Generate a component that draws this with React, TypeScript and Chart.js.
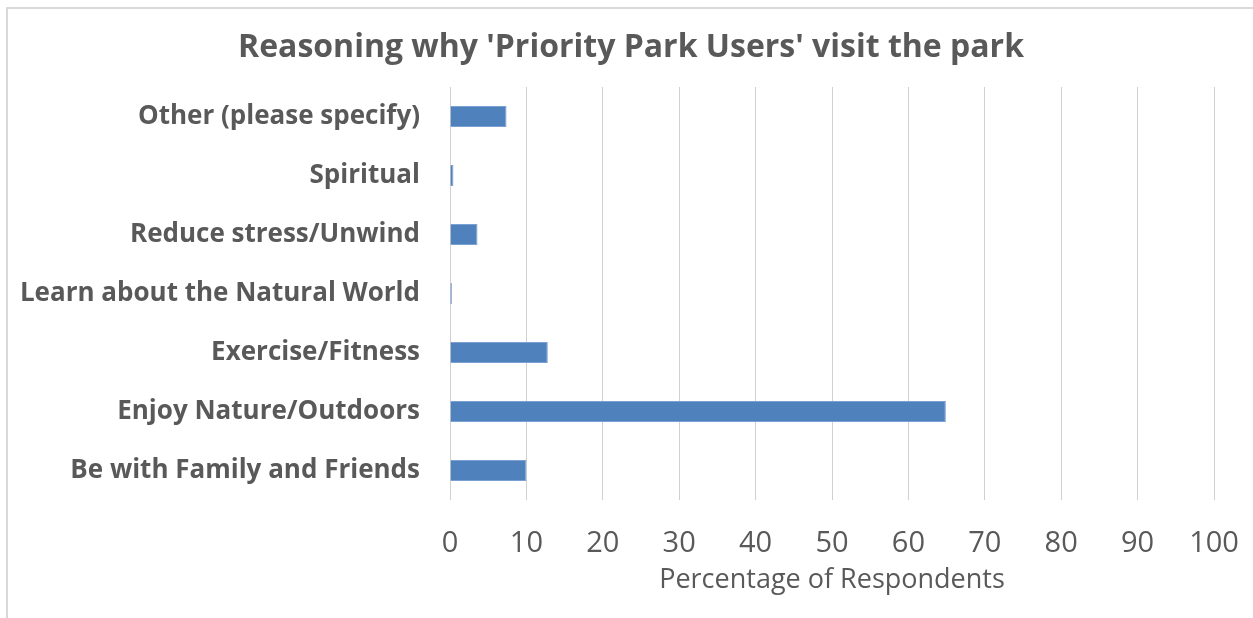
import React, { useEffect, useRef } from "react";
import { Chart, registerables } from "chart.js";

Chart.register(...registerables);

const categories: string[] = [
  "Other (please specify)",
  "Spiritual",
  "Reduce stress/Unwind",
  "Learn about the Natural World",
  "Exercise/Fitness",
  "Enjoy Nature/Outdoors",
  "Be with Family and Friends",
];

const percentages: number[] = [7.4, 0.45, 3.6, 0.25, 12.8, 64.9, 10.0];

const xTickValues: number[] = [0, 10, 20, 30, 40, 50, 60, 70, 80, 90, 100];

const titleText = "Reasoning why 'Priority Park Users' visit the park";
const xAxisTitle = "Percentage of Respondents";

const TEXT = "#595959";
const FONT = "'Open Sans', 'DejaVu Sans', sans-serif";

const framePlugin = {
  id: "frame",
  afterDraw(chart: any) {
    const ctx = chart.ctx;
    ctx.save();
    ctx.strokeStyle = "#d9d9d9";
    ctx.lineWidth = 2;
    ctx.beginPath();
    ctx.moveTo(7, chart.height);
    ctx.lineTo(7, 8);
    ctx.lineTo(chart.width, 8);
    ctx.stroke();
    // chart title
    ctx.fillStyle = TEXT;
    ctx.font = `bold 32px ${FONT}`;
    ctx.textAlign = "center";
    ctx.textBaseline = "alphabetic";
    ctx.fillText(titleText, 631, 57);
    ctx.restore();
  },
};

export default function App() {
  const ref = useRef<HTMLCanvasElement | null>(null);

  useEffect(() => {
    document.body.style.margin = "0";
    const canvas = ref.current;
    if (!canvas) return;
    const chart = new Chart(canvas, {
      type: "bar",
      data: {
        labels: categories,
        datasets: [
          {
            data: percentages,
            backgroundColor: "#4f81bd",
            borderColor: "#7aa0d4",
            borderWidth: 1,
            categoryPercentage: 1,
            barPercentage: 0.357,
          },
        ],
      },
      options: {
        indexAxis: "y",
        responsive: false,
        animation: false,
        layout: { padding: { left: 10, right: 39, top: 87, bottom: 0 } },
        plugins: {
          legend: { display: false },
          tooltip: { enabled: false },
          title: { display: false },
        },
        scales: {
          x: {
            type: "linear",
            min: 0,
            max: 100,
            afterBuildTicks: (s: any) => {
              s.ticks = xTickValues.map((v) => ({ value: v }));
            },
            afterFit: (s: any) => {
              s.height = 118;
              s.paddingLeft = 0;
              s.paddingRight = 0;
            },
            grid: {
              color: "#d0d0d0",
              lineWidth: 1,
              drawTicks: false,
            },
            border: { display: false },
            ticks: {
              color: TEXT,
              padding: 26,
              font: { family: FONT, size: 29 },
            },
            title: {
              display: true,
              text: xAxisTitle,
              color: TEXT,
              font: { family: FONT, size: 27 },
              padding: { top: 0, bottom: 21 },
            },
          },
          y: {
            type: "category",
            afterFit: (s: any) => {
              s.width = 440;
              s.paddingTop = 0;
              s.paddingBottom = 0;
            },
            grid: { display: false, drawTicks: false },
            border: { display: false },
            ticks: {
              color: TEXT,
              padding: 30,
              font: { family: FONT, size: 26, weight: "bold" },
            },
          },
        },
      },
      plugins: [framePlugin],
    });
    return () => chart.destroy();
  }, []);

  return (
    <div style={{ width: 1253, height: 618, background: "#fff" }}>
      <canvas ref={ref} width={1253} height={618} />
    </div>
  );
}
